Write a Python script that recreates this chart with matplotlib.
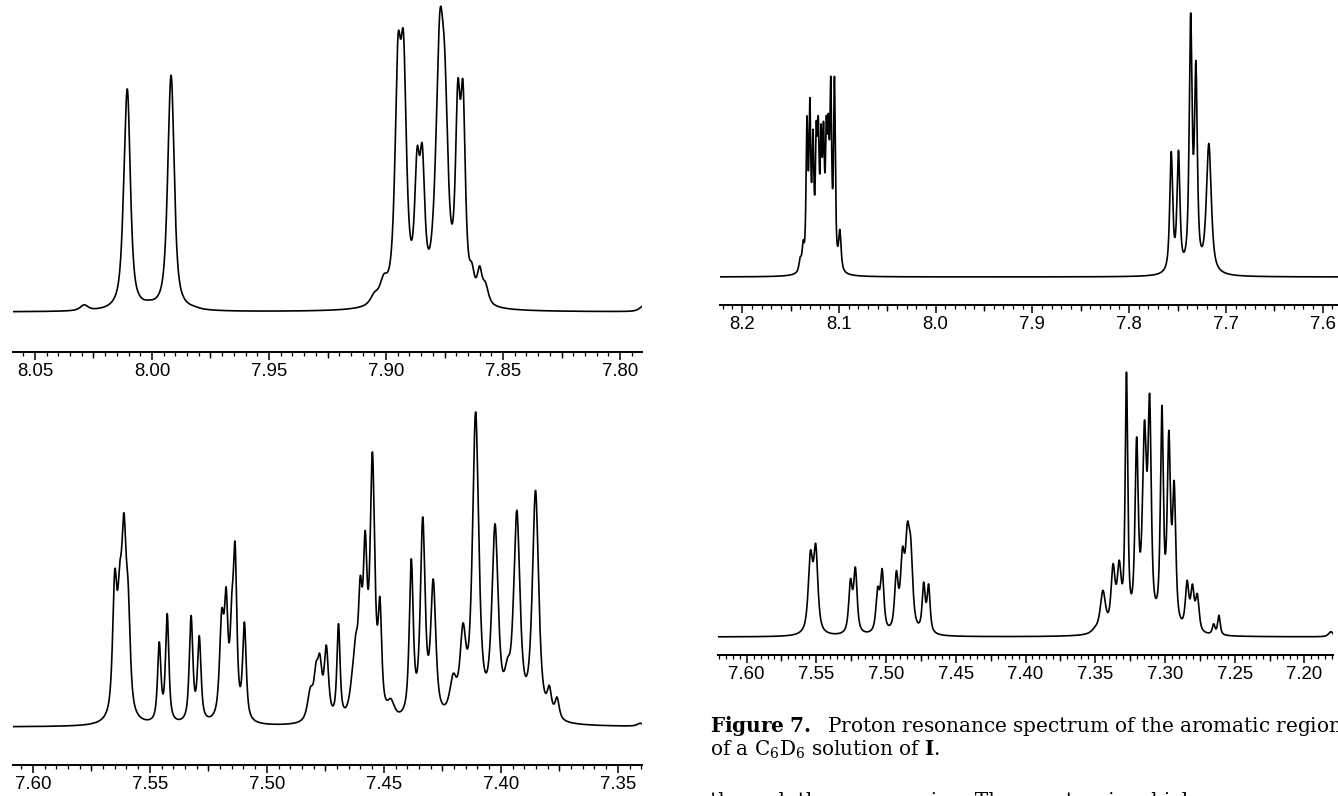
import numpy as np
import matplotlib
matplotlib.use("Agg")
import matplotlib.pyplot as plt
from matplotlib.ticker import MultipleLocator, FormatStrFormatter

W, H = 1338, 796

a_pos = [8.029, 8.0115, 8.0104, 8.0012, 7.9925, 7.9916, 7.982, 7.905, 7.901, 7.8949, 7.8925,
         7.8867, 7.8845, 7.877, 7.8748, 7.8693, 7.8671, 7.8633, 7.860, 7.8575, 7.790]
a_hgt = [0.024, 0.60, 0.736, 0.04, 0.70, 0.775, 0.02, 0.066, 0.126, 0.918, 0.929,
         0.55, 0.56, 1.0, 0.857, 0.775, 0.77, 0.165, 0.154, 0.10, 0.02]
a_wid = [0.004, 0.003, 0.003, 0.006, 0.003, 0.003, 0.005, 0.004, 0.004, 0.003, 0.003,
         0.0025, 0.0025, 0.004, 0.0032, 0.0024, 0.0024, 0.0025, 0.0025, 0.003, 0.004]

b_pos = [7.5650, 7.5629, 7.5611, 7.5593, 7.5460, 7.5426, 7.5324, 7.5289, 7.5193, 7.5174,
         7.5150, 7.5136, 7.5096, 7.4814, 7.4790, 7.4774, 7.4746, 7.4694, 7.4634, 7.4620,
         7.4601, 7.4580, 7.4549, 7.4517, 7.4470, 7.4383, 7.4334, 7.4289, 7.4204, 7.4162,
         7.4108, 7.4025, 7.3972, 7.3932, 7.3852, 7.3793, 7.3760, 7.3405]
b_hgt = [0.50, 0.52, 0.68, 0.46, 0.27, 0.36, 0.354, 0.29, 0.375, 0.444,
         0.423, 0.587, 0.333, 0.127, 0.206, 0.233, 0.26, 0.328, 0.19, 0.296,
         0.48, 0.624, 0.873, 0.413, 0.09, 0.534, 0.667, 0.47, 0.17, 0.33,
         1.0, 0.645, 0.22, 0.688, 0.751, 0.132, 0.095, 0.012]
b_wid = [0.0022, 0.0022, 0.0024, 0.0022, 0.0017, 0.0017, 0.0018, 0.0018, 0.0022, 0.0018,
         0.0018, 0.0018, 0.0018, 0.003, 0.0022, 0.0022, 0.0022, 0.0016, 0.003, 0.0022,
         0.002, 0.002, 0.0024, 0.0018, 0.0035, 0.002, 0.0024, 0.0026, 0.0035, 0.003,
         0.0032, 0.0032, 0.003, 0.0032, 0.0032, 0.0022, 0.0022, 0.003]

c_pos = [8.140, 8.137, 8.1330, 8.1300, 8.1268, 8.1234, 8.1213, 8.1184, 8.1159, 8.1130,
         8.1109, 8.1084, 8.1046, 8.0990, 7.7565, 7.7490, 7.7364, 7.7310, 7.7176]
c_hgt = [0.076, 0.14, 0.61, 0.68, 0.56, 0.59, 0.61, 0.58, 0.59, 0.61,
         0.62, 0.76, 0.76, 0.18, 0.475, 0.48, 1.0, 0.82, 0.506]
c_wid = [0.003, 0.0025, 0.0022, 0.0022, 0.0022, 0.0022, 0.0022, 0.0022, 0.0022, 0.0022,
         0.0022, 0.0022, 0.0022, 0.003, 0.0036, 0.0036, 0.0035, 0.0035, 0.006]

d_pos = [7.5542, 7.5504, 7.537, 7.5255, 7.5220, 7.5060, 7.5028, 7.4926, 7.4882, 7.4847,
         7.4823, 7.4730, 7.4695, 7.3500, 7.3445, 7.3372, 7.3328, 7.3276, 7.3203, 7.3147,
         7.3110, 7.3022, 7.2972, 7.2934, 7.2841, 7.2803, 7.2768, 7.2651, 7.2613, 7.181]
d_hgt = [0.327, 0.352, 0.012, 0.22, 0.264, 0.19, 0.258, 0.25, 0.34, 0.434,
         0.376, 0.207, 0.20, 0.04, 0.176, 0.277, 0.29, 1.0, 0.755, 0.818,
         0.918, 0.874, 0.78, 0.59, 0.214, 0.20, 0.164, 0.05, 0.082, 0.02]
d_wid = [0.0038, 0.0036, 0.004, 0.003, 0.003, 0.003, 0.003, 0.003, 0.0035, 0.0035,
         0.0035, 0.0026, 0.0026, 0.006, 0.0045, 0.0035, 0.0035, 0.0022, 0.0028, 0.0034,
         0.0028, 0.0025, 0.0028, 0.0028, 0.003, 0.003, 0.003, 0.0022, 0.0022, 0.004]


def line_shape(x, p, w, eta=0.75):
    # pseudo-Voigt line of unit height, full width w at half height
    u = (x - p) / (w / 2.0)
    return eta / (1.0 + u ** 2) + (1 - eta) * np.exp(-np.log(2) * u ** 2)


def spectrum(x, pos, hgt, wid):
    pos = np.array(pos)
    hgt = np.array(hgt)
    wid = np.array(wid)
    # non-negative line amplitudes so the summed curve hits the read heights
    m = line_shape(pos[:, None], pos[None, :], wid[None, :])
    amp = hgt.copy()
    for _ in range(400):
        amp = amp * hgt / (m @ amp)
    return (amp[None, :] * line_shape(x[:, None], pos[None, :], wid[None, :])).sum(axis=1)


plt.rcParams['font.family'] = ['Liberation Sans', 'DejaVu Sans']
plt.rcParams['mathtext.fontset'] = 'dejavuserif'

fig = plt.figure(figsize=(W / 100, H / 100), dpi=100)


def panel(x0, x1, spine_y, base_y, top_y, lim, pos, hgt, wid, major, minor, fmt):
    # pixel box -> figure fraction, spine sits at the bottom of the axes
    ax_top = 1
    ax = fig.add_axes([x0 / W, 1 - spine_y / H, (x1 - x0) / W, (spine_y - ax_top) / H])
    span = base_y - top_y
    ax.set_ylim((base_y - spine_y) / span, (base_y - ax_top) / span)
    ax.set_xlim(lim[0], lim[1])
    x = np.linspace(lim[0], lim[1], 6000)
    ax.plot(x, spectrum(x, pos, hgt, wid), color='black', lw=1.2)
    for s in ['top', 'left', 'right']:
        ax.spines[s].set_visible(False)
    ax.spines['bottom'].set_linewidth(1.4)
    ax.set_yticks([])
    ax.xaxis.set_major_locator(MultipleLocator(major))
    ax.xaxis.set_minor_locator(MultipleLocator(minor))
    ax.xaxis.set_major_formatter(FormatStrFormatter(fmt))
    ax.tick_params(axis='x', which='major', direction='out', length=5.5, width=1.1,
                   labelsize=13.4, pad=2.5)
    ax.tick_params(axis='x', which='minor', direction='out', length=3.2, width=0.9)
    # medium ticks half way between the labelled ones
    sec = ax.secondary_xaxis('bottom')
    sec.set_xticks(np.arange(round(lim[1] / major) * major - major / 2,
                             lim[0] + major, major))
    sec.tick_params(axis='x', direction='out', length=4.4, width=1.0, labelbottom=False)
    sec.spines['bottom'].set_visible(False)
    ax.patch.set_alpha(0)
    return ax


panel(13, 642, 352, 312, 12, (8.0594, 7.7906), a_pos, a_hgt, a_wid, 0.05, 0.005, '%.2f')
panel(13, 642, 765, 727, 412, (7.6085, 7.3397), b_pos, b_hgt, b_wid, 0.05, 0.005, '%.2f')
panel(720, 1338, 305, 277, 13, (8.2229, 7.5841), c_pos, c_hgt, c_wid, 0.1, 0.01, '%.1f')
panel(718, 1333, 655, 637, 372, (7.6205, 7.1795), d_pos, d_hgt, d_wid, 0.05, 0.005, '%.2f')

# caption, sized so the first line runs off the right edge as in the page scan
cap1 = r"$\mathbf{Figure\ 7.}$  Proton resonance spectrum of the aromatic region"
cap2 = r"of a C$_6$D$_6$ solution of $\mathbf{I}$."
cap3 = "through the same region. The spectra, in which"
t1 = fig.text(710 / W, 1 - 726 / H, cap1, fontsize=14, family='DejaVu Serif',
              va='center', ha='left')
fig.canvas.draw()
wpx = t1.get_window_extent().width
fs = 14 * 636 / wpx
t1.set_fontsize(fs)
fig.text(710 / W, 1 - 750 / H, cap2, fontsize=fs, family='DejaVu Serif',
         va='center', ha='left')
fig.text(710 / W, 1 - 801 / H, cap3, fontsize=fs, family='DejaVu Serif',
         va='center', ha='left')

fig.savefig("out.png", dpi=100)
